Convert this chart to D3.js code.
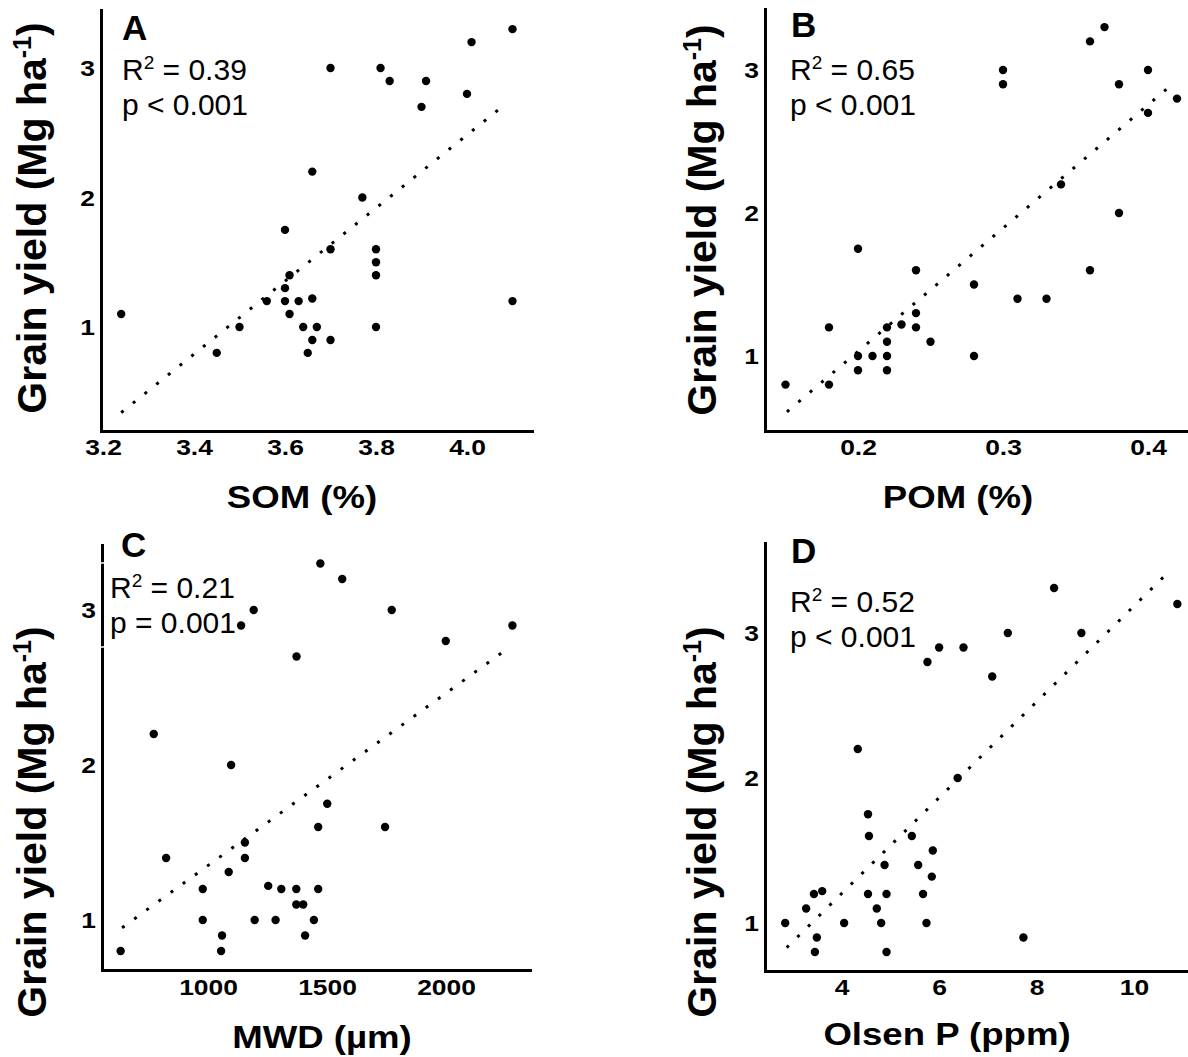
<!DOCTYPE html>
<html>
<head>
<meta charset="utf-8">
<script src="https://cdn.jsdelivr.net/npm/d3@7"></script>
<style>
  body { margin: 0; background: #fff; }
  text { font-family: "Liberation Sans", Arial, sans-serif; fill: #000; }
</style>
</head>
<body>
<div id="chart"></div>
<script>
// ---- data ----
var somX = [4.10,4.01,3.70,3.81,3.83,3.91,4.00,3.90,3.66,3.77,3.60,3.70,3.80,3.80,3.80,3.61,3.60,3.56,3.60,3.63,3.66,4.10,3.24,3.61,3.50,3.64,3.67,3.80,3.66,3.70,3.45,3.65];
var somY = [3.30,3.20,3.00,3.00,2.90,2.90,2.80,2.70,2.20,2.00,1.75,1.60,1.60,1.50,1.40,1.40,1.30,1.20,1.20,1.20,1.22,1.20,1.10,1.10,1.00,1.00,1.00,1.00,0.90,0.90,0.80,0.80];

var pomX = [0.37,0.36,0.30,0.30,0.40,0.38,0.42,0.40,0.34,0.38,0.20,0.24,0.36,0.28,0.31,0.33,0.24,0.18,0.22,0.23,0.24,0.25,0.22,0.20,0.21,0.22,0.28,0.20,0.22,0.15,0.18];
var pomY = [3.30,3.20,3.00,2.90,3.00,2.90,2.80,2.70,2.20,2.00,1.75,1.60,1.60,1.50,1.40,1.40,1.30,1.20,1.20,1.22,1.20,1.10,1.10,1.00,1.00,1.00,1.00,0.90,0.90,0.80,0.80];

var mwdX = [1472,1564,1192,1772,1139,2279,1999,1372,772,1097,1501,1463,1744,1155,824,1155,1087,978,1253,1308,1371,1463,1371,1400,978,1196,1284,1445,1059,1408,633,1055];
var mwdY = [3.30,3.20,3.00,3.00,2.90,2.90,2.80,2.70,2.20,2.00,1.75,1.60,1.60,1.50,1.40,1.40,1.31,1.20,1.22,1.20,1.20,1.20,1.10,1.10,1.00,1.00,1.00,1.00,0.90,0.90,0.80,0.80];

var olsenX = [8.36,10.89,7.41,8.92,6.00,6.50,5.76,7.09,4.33,6.38,4.54,4.56,5.44,5.87,4.88,5.57,5.85,3.43,3.60,4.54,4.92,5.67,3.27,4.72,2.84,4.05,4.81,5.74,3.49,7.73,3.45,4.92];
var olsenY = [3.31,3.20,3.00,3.00,2.90,2.90,2.80,2.70,2.20,2.00,1.75,1.60,1.60,1.50,1.40,1.40,1.32,1.20,1.22,1.20,1.20,1.20,1.10,1.10,1.00,1.00,1.00,1.00,0.90,0.90,0.80,0.80];

var panelLetters = ["A", "B", "C", "D"];
var xTitles = ["SOM (%)", "POM (%)", "MWD (\u00b5m)", "Olsen P (ppm)"];
var rSquared = ["0.39", "0.65", "0.21", "0.52"];
var pLabels = ["p < 0.001", "p < 0.001", "p = 0.001", "p < 0.001"];
var yTicks = [1, 2, 3];
var xTicksA = [3.2, 3.4, 3.6, 3.8, 4.0];
var xTicksB = [0.2, 0.3, 0.4];
var xTicksC = [1000, 1500, 2000];
var xTicksD = [4, 6, 8, 10];
// fitted regression lines: [x start, x end], slope, intercept
var fitRange = [[3.24, 4.08], [0.151, 0.4166], [639, 2258], [2.87, 10.74]];
var fitSlope = [2.821, 8.62, 0.001112, 0.3304];
var fitIntercept = [-8.801, -0.692, 0.2395, -0.118];

var W = 1188, H = 1057;
var svg = d3.select("#chart").append("svg")
  .attr("width", W).attr("height", H);

// layout of each panel (pixel positions)
var panels = [
  {xs: somX, ys: somY, ticks: xTicksA, fmt: ".1f",
   left: 101, right: 532, top: 10, bottom: 431,
   xRef: [3.2, 4.0], xPx: [103, 467], yPx: [327, 68],
   letter: [122, 40], note: [122, 80], yTitle: [46, 218], xTitle: [302, 508], tickBase: 455},
  {xs: pomX, ys: pomY, ticks: xTicksB, fmt: ".1f",
   left: 765, right: 1188, top: 9, bottom: 431,
   xRef: [0.2, 0.4], xPx: [858, 1148], yPx: [356, 70],
   letter: [791, 37], note: [790, 80], yTitle: [716, 220], xTitle: [958, 508], tickBase: 455},
  {xs: mwdX, ys: mwdY, ticks: xTicksC, fmt: "d",
   left: 102, right: 530, top: 545, bottom: 970,
   xRef: [1000, 2000], xPx: [208, 446], yPx: [920, 610],
   letter: [121, 557], note: [110, 598], yTitle: [46, 822], xTitle: [322, 1048], tickBase: 995,
   gaps: [563, 647]},
  {xs: olsenX, ys: olsenY, ticks: xTicksD, fmt: "d",
   left: 765, right: 1188, top: 543, bottom: 971,
   xRef: [4, 10], xPx: [841.7, 1134], yPx: [923, 633],
   letter: [791, 563], note: [790, 612], yTitle: [716, 822], xTitle: [947, 1045], tickBase: 995}
];

panels.forEach(function (p, i) {
  var g = svg.append("g");
  var x0 = d3.scaleLinear().domain(p.xRef).range(p.xPx);
  var y0 = d3.scaleLinear().domain([1, 3]).range(p.yPx);
  var x = d3.scaleLinear().domain([x0.invert(p.left), x0.invert(p.right)]).range([p.left, p.right]);
  var y = d3.scaleLinear().domain([y0.invert(p.bottom), y0.invert(p.top)]).range([p.bottom, p.top]);

  // axes
  var ax = g.append("g").attr("transform", "translate(0," + p.bottom + ")")
    .call(d3.axisBottom(x).tickValues(p.ticks).tickSize(0).tickSizeOuter(0).tickFormat(d3.format(p.fmt)));
  ax.selectAll("text").attr("y", 0).attr("dy", null)
    .attr("transform", "translate(0," + (p.tickBase - p.bottom) + ") scale(1.2,1)");
  var ay = g.append("g").attr("transform", "translate(" + p.left + ",0)")
    .call(d3.axisLeft(y).tickValues(yTicks).tickSize(0).tickSizeOuter(0).tickFormat(d3.format("d")));
  ay.selectAll("text").attr("x", -6 / 1.2).attr("dy", "0.36em")
    .attr("transform", "scale(1.2,1)");
  g.selectAll(".tick text").style("font-size", "22px").style("font-weight", "bold")
    .style("font-family", "'Liberation Sans', Arial, sans-serif");
  g.selectAll(".domain").attr("stroke", "#000").attr("stroke-width", 3)
    .attr("stroke-linecap", "square");

  // small breaks in the axis where the label box edges cross it
  (p.gaps || []).forEach(function (gy) {
    g.append("line").attr("x1", p.left - 3).attr("x2", p.left + 3)
      .attr("y1", gy).attr("y2", gy).attr("stroke", "#fff").attr("stroke-width", 1.5);
  });

  // regression line (dotted)
  var fr = fitRange[i];
  g.append("line")
    .attr("x1", x(fr[0])).attr("y1", y(fitSlope[i] * fr[0] + fitIntercept[i]))
    .attr("x2", x(fr[1])).attr("y2", y(fitSlope[i] * fr[1] + fitIntercept[i]))
    .attr("stroke", "#000").attr("stroke-width", 3)
    .attr("stroke-dasharray", "3 12");

  // points
  g.selectAll("circle").data(p.xs).enter().append("circle")
    .attr("cx", function (d) { return x(d); })
    .attr("cy", function (d, j) { return y(p.ys[j]); })
    .attr("r", 4.2).attr("fill", "#000");

  // annotations
  g.append("text").attr("x", p.letter[0]).attr("y", p.letter[1])
    .style("font-size", "35px").style("font-weight", "bold").text(panelLetters[i]);
  var r2 = g.append("text").attr("x", p.note[0]).attr("y", p.note[1]).style("font-size", "30px");
  r2.append("tspan").text("R");
  r2.append("tspan").attr("dy", -11).style("font-size", "19px").text("2");
  r2.append("tspan").attr("dy", 11).text(" = " + rSquared[i]);
  g.append("text").attr("x", p.note[0]).attr("y", p.note[1] + 35)
    .style("font-size", "30px").text(pLabels[i]);

  // axis titles
  g.append("text")
    .attr("transform", "translate(" + p.xTitle[0] + "," + p.xTitle[1] + ") scale(1.18,1)")
    .attr("text-anchor", "middle").style("font-size", "31px").style("font-weight", "bold")
    .text(xTitles[i]);
  var yt = g.append("text")
    .attr("transform", "translate(" + p.yTitle[0] + "," + p.yTitle[1] + ") rotate(-90)")
    .attr("text-anchor", "middle").style("font-size", "41px").style("font-weight", "bold");
  yt.append("tspan").text("Grain yield (Mg ha");
  yt.append("tspan").attr("dy", -15).style("font-size", "25px").text("-1");
  yt.append("tspan").attr("dy", 15).text(")");
});
</script>
</body>
</html>
